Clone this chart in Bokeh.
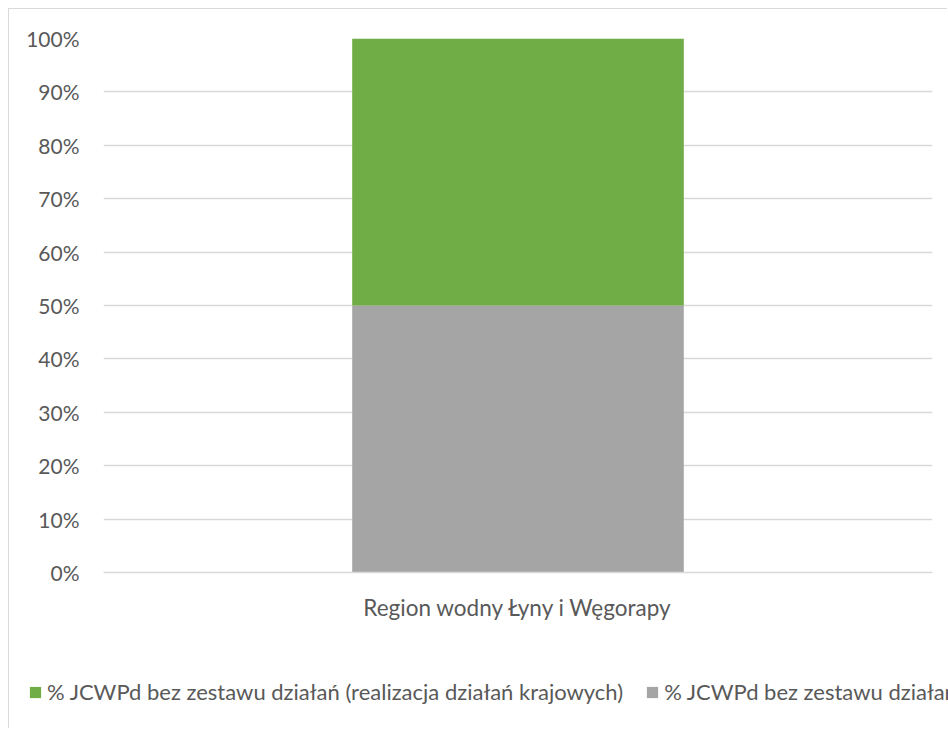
from bokeh.plotting import figure
from bokeh.models import Range1d, FactorRange, Legend, LegendItem, NumeralTickFormatter, FixedTicker
from bokeh.embed import file_html
from bokeh.resources import INLINE

categories = ["Region wodny Łyny i Węgorapy"]
series_names = ["% JCWPd bez zestawu działań", "% JCWPd bez zestawu działań (realizacja działań krajowych)"]
gray_values = [0.5]
green_values = [0.5]
y_ticks = [0, 0.1, 0.2, 0.3, 0.4, 0.5, 0.6, 0.7, 0.8, 0.9, 1.0]
colors = ["#A5A5A5", "#70AD47"]

FONT = "Lato"
TXT = "#595959"

src = dict(cat=categories, gray=gray_values, green=green_values)

# main chart
p = figure(x_range=FactorRange(*categories, range_padding=0), y_range=Range1d(0, 1),
           width=939, height=631, output_backend="svg", toolbar_location=None,
           min_border_left=94, min_border_right=16, min_border_top=29, min_border_bottom=68)
p.styles = {"margin-left": "8px", "margin-top": "8px",
            "border-left": "1px solid #d9d9d9", "border-top": "1px solid #d9d9d9"}
p.outline_line_color = None
p.background_fill_color = "white"
p.border_fill_color = "white"
rs = p.vbar_stack(["gray", "green"], x="cat", width=0.4, source=src, color=colors, line_color=None)

p.xgrid.grid_line_color = None
p.ygrid.grid_line_color = "#D9D9D9"
p.ygrid.grid_line_width = 1.3
p.yaxis.ticker = FixedTicker(ticks=y_ticks)
p.yaxis.formatter = NumeralTickFormatter(format="0%")
for ax in (p.xaxis[0], p.yaxis[0]):
    ax.axis_line_color = None
    ax.major_tick_line_color = None
    ax.minor_tick_line_color = None
    ax.major_label_text_font = FONT
    ax.major_label_text_color = TXT
p.yaxis.major_label_text_font_size = "21px"
p.xaxis.major_label_text_font_size = "22.5px"
p.yaxis.major_label_standoff = 18
p.xaxis.major_label_standoff = 15
p.xaxis.axis_line_color = "#D9D9D9"
p.xaxis.axis_line_width = 1.3

# legend strip (bars drawn out of view, only legend swatches visible)
lg = figure(x_range=FactorRange(*categories), y_range=Range1d(5, 6), width=939, height=89,
            x_axis_type=None, y_axis_type=None,
            output_backend="svg", toolbar_location=None,
            min_border=0, min_border_left=0, min_border_right=0, min_border_top=0, min_border_bottom=0)
lg.styles = {"margin-left": "8px", "border-left": "1px solid #d9d9d9"}
lg.grid.visible = False
lg.outline_line_color = None
lg.background_fill_color = "white"
lg.border_fill_color = "white"
lrs = lg.vbar_stack(["gray", "green"], x="cat", width=0.4, source=src, color=colors, line_color=None)

legend = Legend(items=[LegendItem(label=series_names[1], renderers=[lrs[1]]),
                       LegendItem(label=series_names[0], renderers=[lrs[0]])],
                orientation="horizontal", location=(19, 23),
                glyph_width=14, glyph_height=14, label_standoff=5, spacing=22,
                padding=0, margin=0, border_line_color=None, background_fill_alpha=0,
                label_text_font=FONT, label_text_font_size="22px", label_text_color=TXT)
lg.add_layout(legend, "center")

open("out.html", "w").write(file_html([p, lg], INLINE))
